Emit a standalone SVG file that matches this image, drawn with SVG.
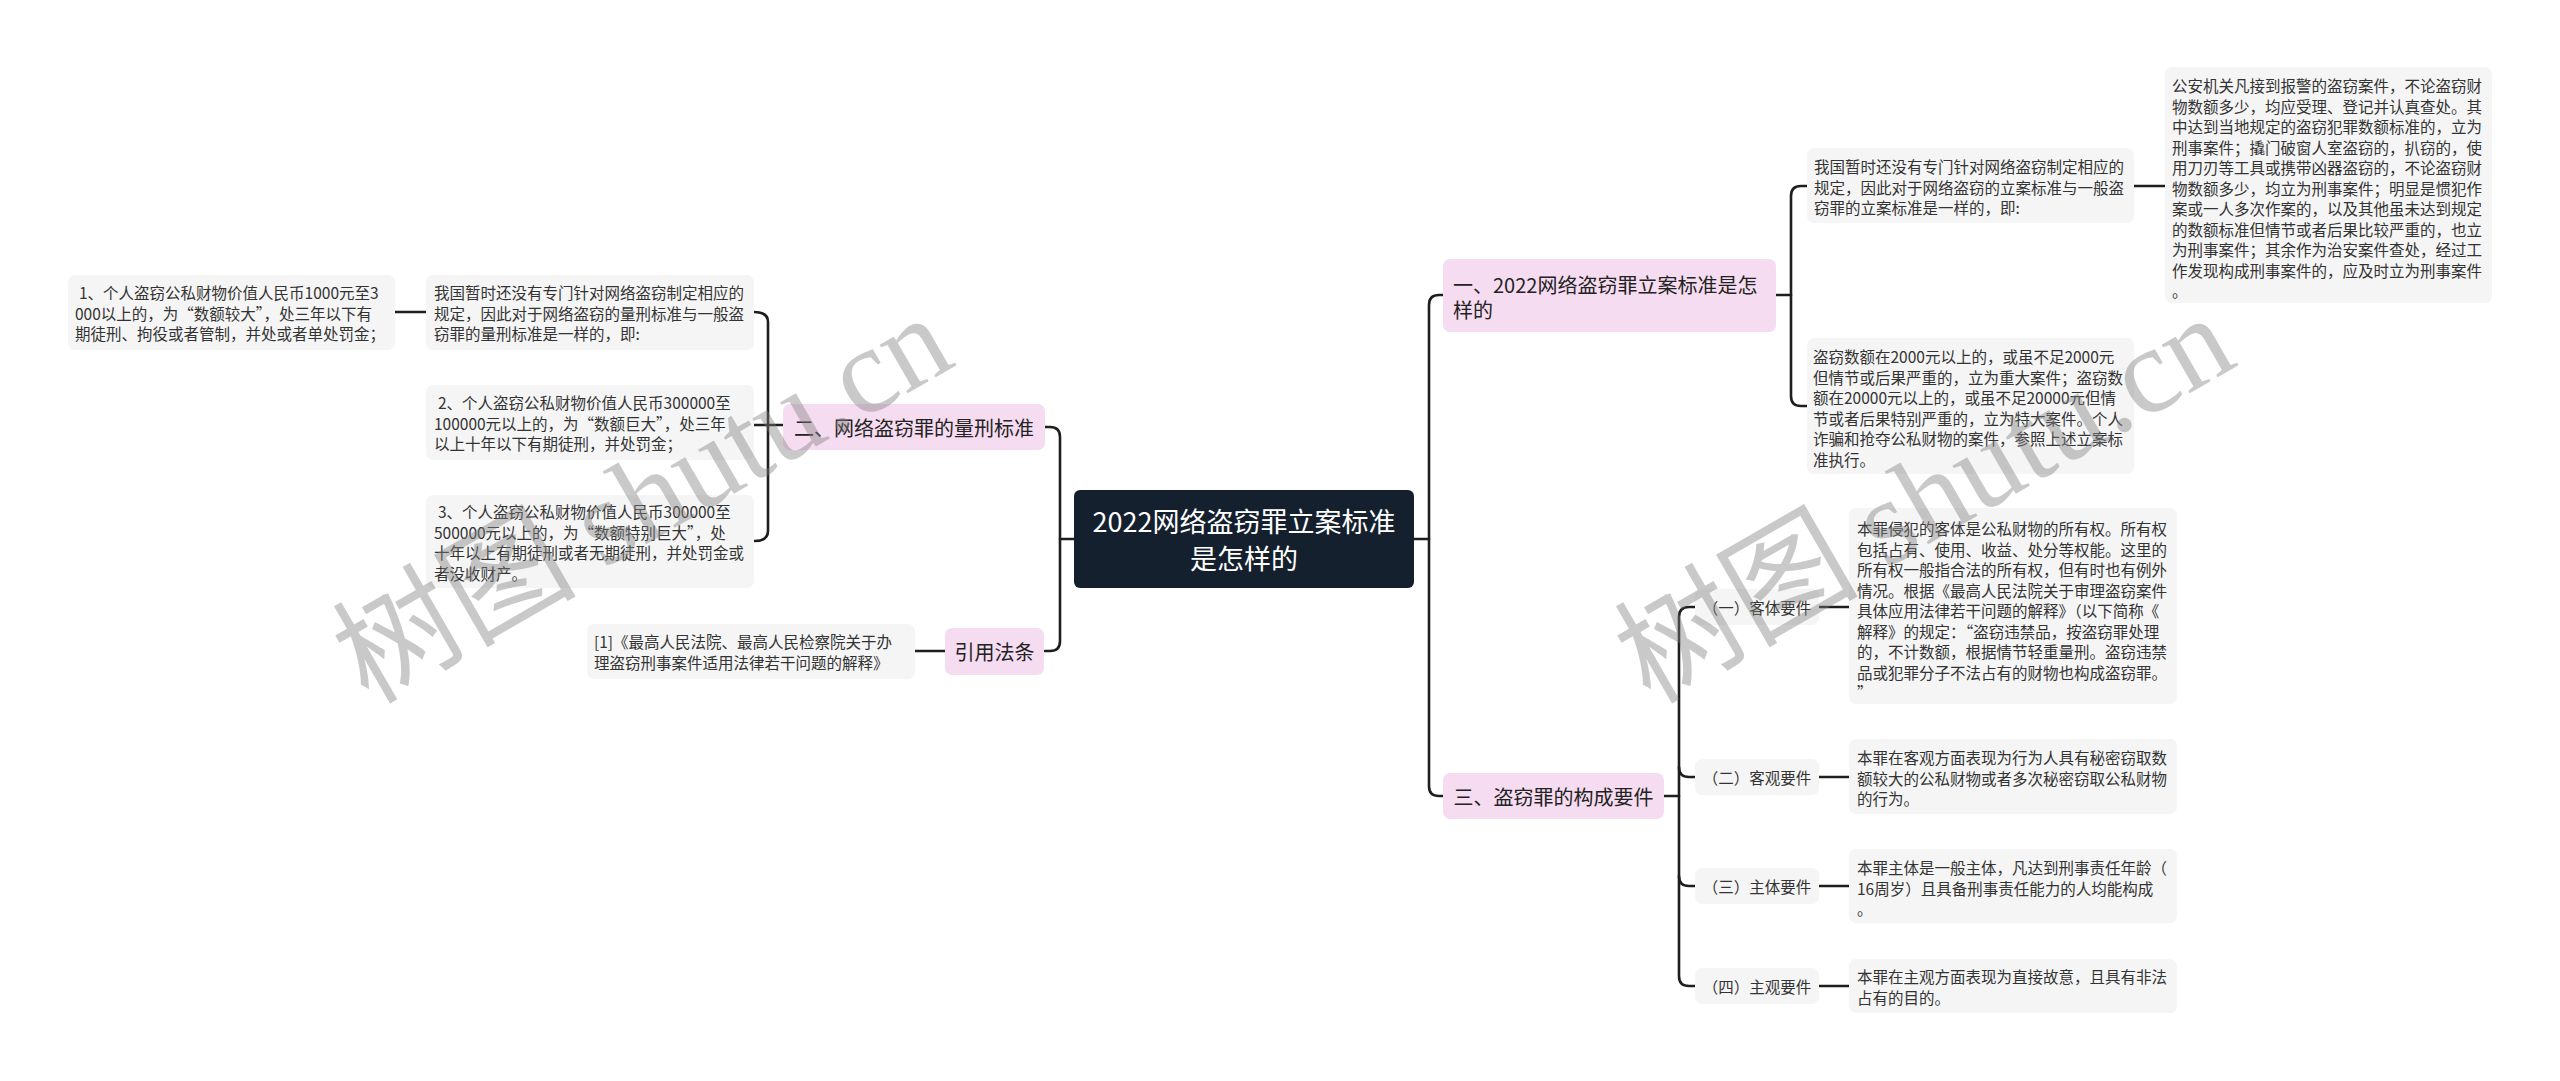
<svg xmlns="http://www.w3.org/2000/svg" width="2560" height="1081" viewBox="0 0 2560 1081">
<style>
.leaf{fill:#f5f5f5}
.lv1{fill:#f6dcf0}
.t{font-family:"Noto Sans CJK SC","Noto Sans",sans-serif;font-size:15.5px;fill:#333;dominant-baseline:central}
.t1{font-family:"Noto Sans CJK SC","Noto Sans",sans-serif;font-size:20px;fill:#222;dominant-baseline:central}
.tr{font-family:"Noto Sans CJK SC","Noto Sans",sans-serif;font-size:27px;fill:#fff;dominant-baseline:central;text-anchor:middle}
.c{fill:none;stroke:#1e1e1e;stroke-width:2.6;stroke-linecap:round;stroke-linejoin:round}
.wm{font-size:122px;fill:#808080;opacity:0.42}
</style>
<rect width="2560" height="1081" fill="#fff"/>
<g id="connectors">
<path class="c" d="M1060,539 H1074"/>
<path class="c" d="M1045,427 H1050 Q1060,427 1060,437 V641 Q1060,651 1050,651 H1045"/>
<path class="c" d="M783,425 H754"/>
<path class="c" d="M754,312 Q768,312 768,322 V531 Q768,541 754,541"/>
<path class="c" d="M395,312 H426"/>
<path class="c" d="M915,651 H945"/>
<path class="c" d="M1414,539 H1429"/>
<path class="c" d="M1443,295 H1439 Q1429,295 1429,305 V786 Q1429,796 1439,796 H1443"/>
<path class="c" d="M1776,295 H1791"/>
<path class="c" d="M1807,186 H1801 Q1791,186 1791,196 V396 Q1791,406 1801,406 H1807"/>
<path class="c" d="M2134,186 H2165"/>
<path class="c" d="M1664,796 H1679"/>
<path class="c" d="M1695,607 H1689 Q1679,607 1679,617 V976 Q1679,986 1689,986 H1695"/>
<path class="c" d="M1679,767 Q1679,777 1689,777 H1695"/>
<path class="c" d="M1679,876 Q1679,886 1689,886 H1695"/>
<path class="c" d="M1819,607 H1849"/>
<path class="c" d="M1819,777 H1849"/>
<path class="c" d="M1819,886 H1849"/>
<path class="c" d="M1819,986 H1849"/>
</g>
<g id="root">
<rect x="1074" y="490" width="340" height="98" rx="6" fill="#15202e"/>
<text class="tr"><tspan x="1244" y="520">2022网络盗窃罪立案标准</tspan><tspan x="1244" y="557">是怎样的</tspan></text>
</g>
<g id="n1">
<rect class="lv1" x="1443" y="259" width="333" height="73" rx="7"/>
<text class="t1"><tspan x="1453" y="284">一、2022网络盗窃罪立案标准是怎</tspan><tspan x="1453" y="309">样的</tspan></text>
</g>
<g id="n1a">
<rect class="leaf" x="1807" y="148" width="327" height="75" rx="7"/>
<text class="t"><tspan x="1814" y="166">我国暂时还没有专门针对网络盗窃制定相应的</tspan><tspan x="1814" y="186.5">规定，因此对于网络盗窃的立案标准与一般盗</tspan><tspan x="1814" y="207">窃罪的立案标准是一样的，即:</tspan></text>
</g>
<g id="n1a1">
<rect class="leaf" x="2165" y="67" width="327" height="236" rx="7"/>
<text class="t"><tspan x="2172" y="85">公安机关凡接到报警的盗窃案件，不论盗窃财</tspan><tspan x="2172" y="105.5">物数额多少，均应受理、登记并认真查处。其</tspan><tspan x="2172" y="126">中达到当地规定的盗窃犯罪数额标准的，立为</tspan><tspan x="2172" y="146.5">刑事案件；撬门破窗人室盗窃的，扒窃的，使</tspan><tspan x="2172" y="167">用刀刃等工具或携带凶器盗窃的，不论盗窃财</tspan><tspan x="2172" y="187.5">物数额多少，均立为刑事案件；明显是惯犯作</tspan><tspan x="2172" y="208">案或一人多次作案的，以及其他虽未达到规定</tspan><tspan x="2172" y="228.5">的数额标准但情节或者后果比较严重的，也立</tspan><tspan x="2172" y="249">为刑事案件；其余作为治安案件查处，经过工</tspan><tspan x="2172" y="269.5">作发现构成刑事案件的，应及时立为刑事案件</tspan><tspan x="2172" y="290">。</tspan></text>
</g>
<g id="n1b">
<rect class="leaf" x="1807" y="338" width="327" height="136" rx="7"/>
<text class="t"><tspan x="1813" y="356">盗窃数额在2000元以上的，或虽不足2000元</tspan><tspan x="1813" y="376.5">但情节或后果严重的，立为重大案件；盗窃数</tspan><tspan x="1813" y="397">额在20000元以上的，或虽不足20000元但情</tspan><tspan x="1813" y="417.5">节或者后果特别严重的，立为特大案件。个人</tspan><tspan x="1813" y="438">诈骗和抢夺公私财物的案件，参照上述立案标</tspan><tspan x="1813" y="458.5">准执行。</tspan></text>
</g>
<g id="n3">
<rect class="lv1" x="1443" y="773" width="221" height="46" rx="7"/>
<text class="t1" x="1553.5" y="796" text-anchor="middle">三、盗窃罪的构成要件</text>
</g>
<g id="n3a">
<rect class="leaf" x="1695" y="589" width="124" height="36" rx="7"/>
<text class="t" x="1757" y="607" text-anchor="middle">（一）客体要件</text>
</g>
<g id="n3a1">
<rect class="leaf" x="1849" y="508" width="328" height="196" rx="7"/>
<text class="t"><tspan x="1857" y="528">本罪侵犯的客体是公私财物的所有权。所有权</tspan><tspan x="1857" y="548.5">包括占有、使用、收益、处分等权能。这里的</tspan><tspan x="1857" y="569">所有权一般指合法的所有权，但有时也有例外</tspan><tspan x="1857" y="589.5">情况。根据《最高人民法院关于审理盗窃案件</tspan><tspan x="1857" y="610">具体应用法律若干问题的解释》（以下简称《</tspan><tspan x="1857" y="630.5">解释》的规定：“盗窃违禁品，按盗窃罪处理</tspan><tspan x="1857" y="651">的，不计数额，根据情节轻重量刑。盗窃违禁</tspan><tspan x="1857" y="671.5">品或犯罪分子不法占有的财物也构成盗窃罪。</tspan><tspan x="1857" y="692">”</tspan></text>
</g>
<g id="n3b">
<rect class="leaf" x="1695" y="759" width="124" height="36" rx="7"/>
<text class="t" x="1757" y="777" text-anchor="middle">（二）客观要件</text>
</g>
<g id="n3b1">
<rect class="leaf" x="1849" y="739" width="328" height="75" rx="7"/>
<text class="t"><tspan x="1857" y="757">本罪在客观方面表现为行为人具有秘密窃取数</tspan><tspan x="1857" y="777.5">额较大的公私财物或者多次秘密窃取公私财物</tspan><tspan x="1857" y="798">的行为。</tspan></text>
</g>
<g id="n3c">
<rect class="leaf" x="1695" y="868" width="124" height="36" rx="7"/>
<text class="t" x="1757" y="886" text-anchor="middle">（三）主体要件</text>
</g>
<g id="n3c1">
<rect class="leaf" x="1849" y="849" width="328" height="74" rx="7"/>
<text class="t"><tspan x="1857" y="867">本罪主体是一般主体，凡达到刑事责任年龄（</tspan><tspan x="1857" y="887.5">16周岁）且具备刑事责任能力的人均能构成</tspan><tspan x="1857" y="908">。</tspan></text>
</g>
<g id="n3d">
<rect class="leaf" x="1695" y="968" width="124" height="36" rx="7"/>
<text class="t" x="1757" y="986" text-anchor="middle">（四）主观要件</text>
</g>
<g id="n3d1">
<rect class="leaf" x="1849" y="959" width="328" height="54" rx="7"/>
<text class="t"><tspan x="1857" y="976">本罪在主观方面表现为直接故意，且具有非法</tspan><tspan x="1857" y="996.5">占有的目的。</tspan></text>
</g>
<g id="n2">
<rect class="lv1" x="783" y="404" width="262" height="46" rx="7"/>
<text class="t1" x="914" y="427" text-anchor="middle">二、网络盗窃罪的量刑标准</text>
</g>
<g id="n2a">
<rect class="leaf" x="426" y="275" width="328" height="75" rx="7"/>
<text class="t"><tspan x="434" y="292">我国暂时还没有专门针对网络盗窃制定相应的</tspan><tspan x="434" y="312.5">规定，因此对于网络盗窃的量刑标准与一般盗</tspan><tspan x="434" y="333">窃罪的量刑标准是一样的，即:</tspan></text>
</g>
<g id="n2a1">
<rect class="leaf" x="68" y="275" width="327" height="75" rx="7"/>
<text class="t"><tspan x="79" y="292">1、个人盗窃公私财物价值人民币1000元至3</tspan><tspan x="75" y="312.5">000以上的，为“数额较大”，处三年以下有</tspan><tspan x="75" y="333">期徒刑、拘役或者管制，并处或者单处罚金；</tspan></text>
</g>
<g id="n2b">
<rect class="leaf" x="426" y="385" width="328" height="75" rx="7"/>
<text class="t"><tspan x="438" y="402">2、个人盗窃公私财物价值人民币300000至</tspan><tspan x="434" y="422.5">100000元以上的，为“数额巨大”，处三年</tspan><tspan x="434" y="443">以上十年以下有期徒刑，并处罚金；</tspan></text>
</g>
<g id="n2c">
<rect class="leaf" x="426" y="495" width="328" height="93" rx="7"/>
<text class="t"><tspan x="438" y="511">3、个人盗窃公私财物价值人民币300000至</tspan><tspan x="434" y="531.5">500000元以上的，为“数额特别巨大”，处</tspan><tspan x="434" y="552">十年以上有期徒刑或者无期徒刑，并处罚金或</tspan><tspan x="434" y="572.5">者没收财产。</tspan></text>
</g>
<g id="n4">
<rect class="lv1" x="945" y="628" width="99" height="47" rx="7"/>
<text class="t1" x="994.5" y="651" text-anchor="middle">引用法条</text>
</g>
<g id="n4a">
<rect class="leaf" x="587" y="624" width="328" height="55" rx="7"/>
<text class="t"><tspan x="594" y="641">[1]《最高人民法院、最高人民检察院关于办</tspan><tspan x="594" y="661.5">理盗窃刑事案件适用法律若干问题的解释》</tspan></text>
</g>
<g id="watermarks">
<text class="wm" transform="translate(368,705) rotate(-30)"><tspan font-family="Noto Sans CJK SC, sans-serif">树图 </tspan><tspan font-family="Liberation Serif, serif">shutu.cn</tspan></text>
<text class="wm" transform="translate(1650,705) rotate(-30)"><tspan font-family="Noto Sans CJK SC, sans-serif">树图 </tspan><tspan font-family="Liberation Serif, serif">shutu.cn</tspan></text>
</g>
</svg>
